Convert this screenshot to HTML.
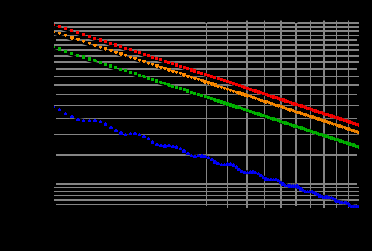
<!DOCTYPE html>
<html><head><meta charset="utf-8"><title>plot</title>
<style>html,body{margin:0;padding:0;background:#000;overflow:hidden;font-family:"Liberation Sans",sans-serif;}svg{display:block}</style>
</head><body>
<svg width="372" height="251" viewBox="0 0 372 251">
<rect width="372" height="251" fill="#000"/>
<defs><clipPath id="c"><rect x="54" y="20" width="305" height="188"/></clipPath></defs>
<g fill="#848484" shape-rendering="crispEdges">
<rect x="54" y="22" width="305" height="2"/>
<rect x="54" y="26" width="305" height="2"/>
<rect x="54" y="30" width="305" height="2"/>
<rect x="54" y="35" width="305" height="1"/>
<rect x="56" y="39" width="301" height="2"/>
<rect x="54" y="44" width="305" height="2"/>
<rect x="54" y="49" width="305" height="2"/>
<rect x="54" y="55" width="305" height="2"/>
<rect x="54" y="61" width="305" height="2"/>
<rect x="56" y="68" width="301" height="2"/>
<rect x="54" y="76" width="305" height="1"/>
<rect x="54" y="84" width="305" height="2"/>
<rect x="56" y="94" width="301" height="1"/>
<rect x="54" y="105" width="305" height="1"/>
<rect x="56" y="118" width="301" height="1"/>
<rect x="54" y="134" width="305" height="1"/>
<rect x="56" y="154" width="301" height="2"/>
<rect x="56" y="183" width="301" height="2"/>
<rect x="54" y="187" width="305" height="1"/>
<rect x="54" y="191" width="305" height="1"/>
<rect x="54" y="195" width="305" height="1"/>
<rect x="54" y="199" width="305" height="2"/>
<rect x="56" y="204" width="301" height="1"/>
<rect x="206" y="24" width="1" height="182"/>
<rect x="227" y="21" width="1" height="187"/>
<rect x="227" y="20" width="1" height="1" opacity="0.45"/>
<rect x="246" y="21" width="2" height="187"/>
<rect x="246" y="20" width="2" height="1" opacity="0.45"/>
<rect x="264" y="21" width="1" height="187"/>
<rect x="264" y="20" width="1" height="1" opacity="0.45"/>
<rect x="280" y="21" width="2" height="187"/>
<rect x="280" y="20" width="2" height="1" opacity="0.45"/>
<rect x="295" y="24" width="2" height="182"/>
<rect x="310" y="21" width="1" height="187"/>
<rect x="310" y="20" width="1" height="1" opacity="0.45"/>
<rect x="323" y="21" width="2" height="187"/>
<rect x="323" y="20" width="2" height="1" opacity="0.45"/>
<rect x="336" y="21" width="1" height="187"/>
<rect x="336" y="20" width="1" height="1" opacity="0.45"/>
<rect x="348" y="21" width="1" height="187"/>
<rect x="348" y="20" width="1" height="1" opacity="0.45"/>
</g>
<rect x="205.5" y="20" width="1.6" height="3" fill="#000"/>
<rect x="295" y="20" width="2.5" height="3" fill="#000"/>
<g clip-path="url(#c)">
<line x1="50" y1="25.33" x2="362" y2="126.23" stroke="#000" stroke-width="2.0"/>
<g fill="#ff0000" shape-rendering="crispEdges">
<rect x="54" y="24" width="1" height="2"/>
<rect x="57" y="24" width="5" height="5" fill="#000" opacity="0.12"/>
<rect x="58" y="25" width="3" height="3"/>
<rect x="63" y="26" width="5" height="5" fill="#000" opacity="0.12"/>
<rect x="64" y="27" width="3" height="3"/>
<rect x="69" y="28" width="5" height="5" fill="#000" opacity="0.12"/>
<rect x="70" y="29" width="3" height="3"/>
<rect x="75" y="30" width="5" height="5" fill="#000" opacity="0.12"/>
<rect x="76" y="31" width="3" height="3"/>
<rect x="81" y="32" width="5" height="5" fill="#000" opacity="0.12"/>
<rect x="82" y="33" width="3" height="3"/>
<rect x="87" y="34" width="5" height="5" fill="#000" opacity="0.12"/>
<rect x="88" y="35" width="3" height="3"/>
<rect x="92" y="36" width="5" height="5" fill="#000" opacity="0.12"/>
<rect x="93" y="37" width="3" height="3"/>
<rect x="98" y="37" width="5" height="6" fill="#000" opacity="0.12"/>
<rect x="99" y="38" width="3" height="4"/>
<rect x="103" y="39" width="5" height="5" fill="#000" opacity="0.12"/>
<rect x="104" y="40" width="3" height="3"/>
<rect x="108" y="41" width="5" height="5" fill="#000" opacity="0.12"/>
<rect x="109" y="42" width="3" height="3"/>
<rect x="113" y="42" width="5" height="6" fill="#000" opacity="0.12"/>
<rect x="114" y="43" width="3" height="4"/>
<rect x="118" y="44" width="5" height="5" fill="#000" opacity="0.12"/>
<rect x="119" y="45" width="3" height="3"/>
<rect x="123" y="46" width="5" height="5" fill="#000" opacity="0.12"/>
<rect x="124" y="47" width="3" height="3"/>
<rect x="128" y="47" width="5" height="5" fill="#000" opacity="0.12"/>
<rect x="129" y="48" width="3" height="3"/>
<rect x="133" y="49" width="5" height="5" fill="#000" opacity="0.12"/>
<rect x="134" y="50" width="3" height="3"/>
<rect x="137" y="50" width="5" height="5" fill="#000" opacity="0.12"/>
<rect x="138" y="51" width="3" height="3"/>
<rect x="142" y="52" width="5" height="5" fill="#000" opacity="0.12"/>
<rect x="143" y="53" width="3" height="3"/>
<rect x="146" y="53" width="5" height="5" fill="#000" opacity="0.12"/>
<rect x="147" y="54" width="3" height="3"/>
<rect x="150" y="55" width="5" height="5" fill="#000" opacity="0.12"/>
<rect x="151" y="56" width="3" height="3"/>
<rect x="154" y="56" width="5" height="5" fill="#000" opacity="0.12"/>
<rect x="155" y="57" width="3" height="3"/>
<rect x="158" y="57" width="5" height="5" fill="#000" opacity="0.12"/>
<rect x="159" y="58" width="3" height="3"/>
<rect x="163" y="59" width="5" height="5" fill="#000" opacity="0.12"/>
<rect x="164" y="60" width="3" height="3"/>
<rect x="166" y="60" width="5" height="5" fill="#000" opacity="0.12"/>
<rect x="167" y="61" width="3" height="3"/>
<rect x="170" y="61" width="5" height="5" fill="#000" opacity="0.12"/>
<rect x="171" y="62" width="3" height="3"/>
<rect x="174" y="62" width="5" height="6" fill="#000" opacity="0.12"/>
<rect x="175" y="63" width="3" height="4"/>
<rect x="178" y="64" width="5" height="5" fill="#000" opacity="0.12"/>
<rect x="179" y="65" width="3" height="3"/>
<rect x="182" y="65" width="5" height="5" fill="#000" opacity="0.12"/>
<rect x="183" y="66" width="3" height="3"/>
<rect x="185" y="66" width="5" height="5" fill="#000" opacity="0.12"/>
<rect x="186" y="67" width="3" height="3"/>
<rect x="189" y="67" width="5" height="6" fill="#000" opacity="0.12"/>
<rect x="190" y="68" width="3" height="4"/>
<rect x="192" y="68" width="5" height="6" fill="#000" opacity="0.12"/>
<rect x="193" y="69" width="3" height="4"/>
<rect x="196" y="70" width="5" height="5" fill="#000" opacity="0.12"/>
<rect x="197" y="71" width="3" height="3"/>
<rect x="199" y="71" width="5" height="5" fill="#000" opacity="0.12"/>
<rect x="200" y="72" width="3" height="3"/>
<rect x="203" y="72" width="5" height="5" fill="#000" opacity="0.12"/>
<rect x="204" y="73" width="3" height="3"/>
<rect x="206" y="73" width="5" height="5" fill="#000" opacity="0.12"/>
<rect x="207" y="74" width="3" height="3"/>
<rect x="209" y="74" width="5" height="5" fill="#000" opacity="0.12"/>
<rect x="210" y="75" width="3" height="3"/>
<rect x="212" y="75" width="5" height="5" fill="#000" opacity="0.12"/>
<rect x="213" y="76" width="3" height="3"/>
<rect x="216" y="76" width="5" height="5" fill="#000" opacity="0.12"/>
<rect x="217" y="77" width="3" height="3"/>
<rect x="219" y="77" width="5" height="5" fill="#000" opacity="0.12"/>
<rect x="220" y="78" width="3" height="3"/>
<rect x="222" y="78" width="5" height="5" fill="#000" opacity="0.12"/>
<rect x="223" y="79" width="3" height="3"/>
<rect x="225" y="79" width="5" height="5" fill="#000" opacity="0.12"/>
<rect x="226" y="80" width="3" height="3"/>
<rect x="228" y="80" width="5" height="5" fill="#000" opacity="0.12"/>
<rect x="229" y="81" width="3" height="3"/>
<rect x="231" y="81" width="5" height="5" fill="#000" opacity="0.12"/>
<rect x="232" y="82" width="3" height="3"/>
<rect x="234" y="82" width="5" height="5" fill="#000" opacity="0.12"/>
<rect x="235" y="83" width="3" height="3"/>
<rect x="237" y="83" width="5" height="5" fill="#000" opacity="0.12"/>
<rect x="238" y="84" width="3" height="3"/>
<rect x="240" y="84" width="5" height="5" fill="#000" opacity="0.12"/>
<rect x="241" y="85" width="3" height="3"/>
<rect x="242" y="85" width="5" height="5" fill="#000" opacity="0.12"/>
<rect x="243" y="86" width="3" height="3"/>
<rect x="245" y="86" width="5" height="5" fill="#000" opacity="0.12"/>
<rect x="246" y="87" width="3" height="3"/>
<rect x="248" y="87" width="5" height="5" fill="#000" opacity="0.12"/>
<rect x="249" y="88" width="3" height="3"/>
<rect x="251" y="88" width="5" height="5" fill="#000" opacity="0.12"/>
<rect x="252" y="89" width="3" height="3"/>
<rect x="253" y="88" width="5" height="6" fill="#000" opacity="0.12"/>
<rect x="254" y="89" width="3" height="4"/>
<rect x="256" y="89" width="5" height="6" fill="#000" opacity="0.12"/>
<rect x="257" y="90" width="3" height="4"/>
<rect x="258" y="90" width="5" height="5" fill="#000" opacity="0.12"/>
<rect x="259" y="91" width="3" height="3"/>
<rect x="261" y="91" width="5" height="5" fill="#000" opacity="0.12"/>
<rect x="262" y="92" width="3" height="3"/>
<rect x="264" y="92" width="5" height="5" fill="#000" opacity="0.12"/>
<rect x="265" y="93" width="3" height="3"/>
<rect x="266" y="93" width="5" height="5" fill="#000" opacity="0.12"/>
<rect x="267" y="94" width="3" height="3"/>
<rect x="269" y="94" width="5" height="5" fill="#000" opacity="0.12"/>
<rect x="270" y="95" width="3" height="3"/>
<rect x="271" y="94" width="5" height="6" fill="#000" opacity="0.12"/>
<rect x="272" y="95" width="3" height="4"/>
<rect x="274" y="95" width="5" height="5" fill="#000" opacity="0.12"/>
<rect x="275" y="96" width="3" height="3"/>
<rect x="276" y="96" width="5" height="5" fill="#000" opacity="0.12"/>
<rect x="277" y="97" width="3" height="3"/>
<rect x="278" y="97" width="5" height="5" fill="#000" opacity="0.12"/>
<rect x="279" y="98" width="3" height="3"/>
<rect x="281" y="97" width="5" height="6" fill="#000" opacity="0.12"/>
<rect x="282" y="98" width="3" height="4"/>
<rect x="283" y="98" width="5" height="6" fill="#000" opacity="0.12"/>
<rect x="284" y="99" width="3" height="4"/>
<rect x="285" y="99" width="5" height="5" fill="#000" opacity="0.12"/>
<rect x="286" y="100" width="3" height="3"/>
<rect x="288" y="100" width="5" height="5" fill="#000" opacity="0.12"/>
<rect x="289" y="101" width="3" height="3"/>
<rect x="290" y="101" width="5" height="5" fill="#000" opacity="0.12"/>
<rect x="291" y="102" width="3" height="3"/>
<rect x="292" y="101" width="5" height="6" fill="#000" opacity="0.12"/>
<rect x="293" y="102" width="3" height="4"/>
<rect x="294" y="102" width="5" height="5" fill="#000" opacity="0.12"/>
<rect x="295" y="103" width="3" height="3"/>
<rect x="297" y="103" width="5" height="5" fill="#000" opacity="0.12"/>
<rect x="298" y="104" width="3" height="3"/>
<rect x="299" y="103" width="5" height="6" fill="#000" opacity="0.12"/>
<rect x="300" y="104" width="3" height="4"/>
<rect x="301" y="104" width="5" height="5" fill="#000" opacity="0.12"/>
<rect x="302" y="105" width="3" height="3"/>
<rect x="303" y="105" width="5" height="5" fill="#000" opacity="0.12"/>
<rect x="304" y="106" width="3" height="3"/>
<rect x="305" y="106" width="5" height="5" fill="#000" opacity="0.12"/>
<rect x="306" y="107" width="3" height="3"/>
<rect x="307" y="106" width="5" height="5" fill="#000" opacity="0.12"/>
<rect x="308" y="107" width="3" height="3"/>
<rect x="309" y="107" width="5" height="5" fill="#000" opacity="0.12"/>
<rect x="310" y="108" width="3" height="3"/>
<rect x="311" y="108" width="5" height="5" fill="#000" opacity="0.12"/>
<rect x="312" y="109" width="3" height="3"/>
<rect x="313" y="108" width="5" height="6" fill="#000" opacity="0.12"/>
<rect x="314" y="109" width="3" height="4"/>
<rect x="315" y="109" width="5" height="5" fill="#000" opacity="0.12"/>
<rect x="316" y="110" width="3" height="3"/>
<rect x="317" y="110" width="5" height="5" fill="#000" opacity="0.12"/>
<rect x="318" y="111" width="3" height="3"/>
<rect x="319" y="110" width="5" height="5" fill="#000" opacity="0.12"/>
<rect x="320" y="111" width="3" height="3"/>
<rect x="321" y="111" width="5" height="5" fill="#000" opacity="0.12"/>
<rect x="322" y="112" width="3" height="3"/>
<rect x="323" y="112" width="5" height="5" fill="#000" opacity="0.12"/>
<rect x="324" y="113" width="3" height="3"/>
<rect x="325" y="112" width="5" height="5" fill="#000" opacity="0.12"/>
<rect x="326" y="113" width="3" height="3"/>
<rect x="327" y="113" width="5" height="5" fill="#000" opacity="0.12"/>
<rect x="328" y="114" width="3" height="3"/>
<rect x="329" y="113" width="5" height="6" fill="#000" opacity="0.12"/>
<rect x="330" y="114" width="3" height="4"/>
<rect x="331" y="114" width="5" height="5" fill="#000" opacity="0.12"/>
<rect x="332" y="115" width="3" height="3"/>
<rect x="333" y="115" width="5" height="5" fill="#000" opacity="0.12"/>
<rect x="334" y="116" width="3" height="3"/>
<rect x="335" y="115" width="5" height="5" fill="#000" opacity="0.12"/>
<rect x="336" y="116" width="3" height="3"/>
<rect x="336" y="116" width="5" height="5" fill="#000" opacity="0.12"/>
<rect x="337" y="117" width="3" height="3"/>
<rect x="338" y="116" width="5" height="6" fill="#000" opacity="0.12"/>
<rect x="339" y="117" width="3" height="4"/>
<rect x="340" y="117" width="5" height="5" fill="#000" opacity="0.12"/>
<rect x="341" y="118" width="3" height="3"/>
<rect x="342" y="118" width="5" height="5" fill="#000" opacity="0.12"/>
<rect x="343" y="119" width="3" height="3"/>
<rect x="344" y="118" width="5" height="5" fill="#000" opacity="0.12"/>
<rect x="345" y="119" width="3" height="3"/>
<rect x="345" y="119" width="5" height="5" fill="#000" opacity="0.12"/>
<rect x="346" y="120" width="3" height="3"/>
<rect x="347" y="119" width="5" height="6" fill="#000" opacity="0.12"/>
<rect x="348" y="120" width="3" height="4"/>
<rect x="349" y="120" width="5" height="5" fill="#000" opacity="0.12"/>
<rect x="350" y="121" width="3" height="3"/>
<rect x="351" y="121" width="5" height="5" fill="#000" opacity="0.12"/>
<rect x="352" y="122" width="3" height="3"/>
<rect x="352" y="121" width="5" height="5" fill="#000" opacity="0.12"/>
<rect x="353" y="122" width="3" height="3"/>
<rect x="354" y="122" width="5" height="5" fill="#000" opacity="0.12"/>
<rect x="355" y="123" width="3" height="3"/>
<rect x="356" y="122" width="5" height="5" fill="#000" opacity="0.12"/>
<rect x="357" y="123" width="3" height="3"/>
<rect x="357" y="123" width="5" height="5" fill="#000" opacity="0.12"/>
<rect x="358" y="124" width="3" height="3"/>
</g>
<line x1="50" y1="32.58" x2="362" y2="133.23" stroke="#000" stroke-width="2.0"/>
<g fill="#ff8c00" shape-rendering="crispEdges">
<rect x="54" y="31" width="1" height="2"/>
<rect x="57" y="31" width="5" height="5" fill="#000" opacity="0.12"/>
<path d="M58,32h3v2h-1v1h-1v-1h-1z"/>
<rect x="63" y="33" width="5" height="5" fill="#000" opacity="0.12"/>
<path d="M64,34h3v2h-1v1h-1v-1h-1z"/>
<rect x="69" y="35" width="6" height="6" fill="#000" opacity="0.12"/>
<path d="M70,36h4v3h-1v1h-2v-1h-1z"/>
<rect x="75" y="37" width="6" height="5" fill="#000" opacity="0.12"/>
<path d="M76,38h4v2h-1v1h-2v-1h-1z"/>
<rect x="81" y="39" width="5" height="5" fill="#000" opacity="0.12"/>
<path d="M82,40h3v2h-1v1h-1v-1h-1z"/>
<rect x="87" y="41" width="5" height="5" fill="#000" opacity="0.12"/>
<path d="M88,42h3v2h-1v1h-1v-1h-1z"/>
<rect x="92" y="43" width="6" height="5" fill="#000" opacity="0.12"/>
<path d="M93,44h4v2h-1v1h-2v-1h-1z"/>
<rect x="98" y="45" width="5" height="5" fill="#000" opacity="0.12"/>
<path d="M99,46h3v2h-1v1h-1v-1h-1z"/>
<rect x="103" y="46" width="5" height="6" fill="#000" opacity="0.12"/>
<path d="M104,47h3v3h-1v1h-1v-1h-1z"/>
<rect x="108" y="48" width="6" height="5" fill="#000" opacity="0.12"/>
<path d="M109,49h4v2h-1v1h-2v-1h-1z"/>
<rect x="113" y="50" width="6" height="5" fill="#000" opacity="0.12"/>
<path d="M114,51h4v2h-1v1h-2v-1h-1z"/>
<rect x="118" y="51" width="6" height="6" fill="#000" opacity="0.12"/>
<path d="M119,52h4v3h-1v1h-2v-1h-1z"/>
<rect x="123" y="53" width="5" height="5" fill="#000" opacity="0.12"/>
<path d="M124,54h3v2h-1v1h-1v-1h-1z"/>
<rect x="128" y="55" width="5" height="5" fill="#000" opacity="0.12"/>
<path d="M129,56h3v2h-1v1h-1v-1h-1z"/>
<rect x="132" y="56" width="6" height="5" fill="#000" opacity="0.12"/>
<path d="M133,57h4v2h-1v1h-2v-1h-1z"/>
<rect x="137" y="58" width="5" height="5" fill="#000" opacity="0.12"/>
<path d="M138,59h3v2h-1v1h-1v-1h-1z"/>
<rect x="141" y="59" width="6" height="5" fill="#000" opacity="0.12"/>
<path d="M142,60h4v2h-1v1h-2v-1h-1z"/>
<rect x="146" y="61" width="5" height="5" fill="#000" opacity="0.12"/>
<path d="M147,62h3v2h-1v1h-1v-1h-1z"/>
<rect x="150" y="62" width="5" height="5" fill="#000" opacity="0.12"/>
<path d="M151,63h3v2h-1v1h-1v-1h-1z"/>
<rect x="154" y="63" width="6" height="6" fill="#000" opacity="0.12"/>
<path d="M155,64h4v3h-1v1h-2v-1h-1z"/>
<rect x="158" y="65" width="6" height="5" fill="#000" opacity="0.12"/>
<path d="M159,66h4v2h-1v1h-2v-1h-1z"/>
<rect x="162" y="66" width="6" height="5" fill="#000" opacity="0.12"/>
<path d="M163,67h4v2h-1v1h-2v-1h-1z"/>
<rect x="166" y="67" width="6" height="6" fill="#000" opacity="0.12"/>
<path d="M167,68h4v3h-1v1h-2v-1h-1z"/>
<rect x="170" y="69" width="6" height="5" fill="#000" opacity="0.12"/>
<path d="M171,70h4v2h-1v1h-2v-1h-1z"/>
<rect x="174" y="70" width="5" height="5" fill="#000" opacity="0.12"/>
<path d="M175,71h3v2h-1v1h-1v-1h-1z"/>
<rect x="178" y="71" width="5" height="5" fill="#000" opacity="0.12"/>
<path d="M179,72h3v2h-1v1h-1v-1h-1z"/>
<rect x="181" y="72" width="6" height="6" fill="#000" opacity="0.12"/>
<path d="M182,73h4v3h-1v1h-2v-1h-1z"/>
<rect x="185" y="74" width="6" height="5" fill="#000" opacity="0.12"/>
<path d="M186,75h4v2h-1v1h-2v-1h-1z"/>
<rect x="189" y="75" width="5" height="5" fill="#000" opacity="0.12"/>
<path d="M190,76h3v2h-1v1h-1v-1h-1z"/>
<rect x="192" y="76" width="6" height="5" fill="#000" opacity="0.12"/>
<path d="M193,77h4v2h-1v1h-2v-1h-1z"/>
<rect x="196" y="77" width="5" height="5" fill="#000" opacity="0.12"/>
<path d="M197,78h3v2h-1v1h-1v-1h-1z"/>
<rect x="199" y="78" width="6" height="5" fill="#000" opacity="0.12"/>
<path d="M200,79h4v2h-1v1h-2v-1h-1z"/>
<rect x="202" y="79" width="6" height="6" fill="#000" opacity="0.12"/>
<path d="M203,80h4v3h-1v1h-2v-1h-1z"/>
<rect x="206" y="80" width="5" height="6" fill="#000" opacity="0.12"/>
<path d="M207,81h3v3h-1v1h-1v-1h-1z"/>
<rect x="209" y="81" width="6" height="6" fill="#000" opacity="0.12"/>
<path d="M210,82h4v3h-1v1h-2v-1h-1z"/>
<rect x="212" y="82" width="6" height="6" fill="#000" opacity="0.12"/>
<path d="M213,83h4v3h-1v1h-2v-1h-1z"/>
<rect x="215" y="84" width="6" height="5" fill="#000" opacity="0.12"/>
<path d="M216,85h4v2h-1v1h-2v-1h-1z"/>
<rect x="219" y="85" width="5" height="5" fill="#000" opacity="0.12"/>
<path d="M220,86h3v2h-1v1h-1v-1h-1z"/>
<rect x="222" y="86" width="5" height="5" fill="#000" opacity="0.12"/>
<path d="M223,87h3v2h-1v1h-1v-1h-1z"/>
<rect x="225" y="87" width="5" height="5" fill="#000" opacity="0.12"/>
<path d="M226,88h3v2h-1v1h-1v-1h-1z"/>
<rect x="228" y="88" width="5" height="5" fill="#000" opacity="0.12"/>
<path d="M229,89h3v2h-1v1h-1v-1h-1z"/>
<rect x="231" y="89" width="5" height="5" fill="#000" opacity="0.12"/>
<path d="M232,90h3v2h-1v1h-1v-1h-1z"/>
<rect x="234" y="90" width="5" height="5" fill="#000" opacity="0.12"/>
<path d="M235,91h3v2h-1v1h-1v-1h-1z"/>
<rect x="236" y="90" width="6" height="6" fill="#000" opacity="0.12"/>
<path d="M237,91h4v3h-1v1h-2v-1h-1z"/>
<rect x="239" y="91" width="6" height="6" fill="#000" opacity="0.12"/>
<path d="M240,92h4v3h-1v1h-2v-1h-1z"/>
<rect x="242" y="92" width="6" height="6" fill="#000" opacity="0.12"/>
<path d="M243,93h4v3h-1v1h-2v-1h-1z"/>
<rect x="245" y="93" width="5" height="6" fill="#000" opacity="0.12"/>
<path d="M246,94h3v3h-1v1h-1v-1h-1z"/>
<rect x="248" y="94" width="5" height="5" fill="#000" opacity="0.12"/>
<path d="M249,95h3v2h-1v1h-1v-1h-1z"/>
<rect x="250" y="95" width="6" height="5" fill="#000" opacity="0.12"/>
<path d="M251,96h4v2h-1v1h-2v-1h-1z"/>
<rect x="253" y="96" width="5" height="5" fill="#000" opacity="0.12"/>
<path d="M254,97h3v2h-1v1h-1v-1h-1z"/>
<rect x="256" y="97" width="5" height="5" fill="#000" opacity="0.12"/>
<path d="M257,98h3v2h-1v1h-1v-1h-1z"/>
<rect x="258" y="98" width="6" height="5" fill="#000" opacity="0.12"/>
<path d="M259,99h4v2h-1v1h-2v-1h-1z"/>
<rect x="261" y="99" width="5" height="5" fill="#000" opacity="0.12"/>
<path d="M262,100h3v2h-1v1h-1v-1h-1z"/>
<rect x="263" y="99" width="6" height="6" fill="#000" opacity="0.12"/>
<path d="M264,100h4v3h-1v1h-2v-1h-1z"/>
<rect x="266" y="100" width="5" height="5" fill="#000" opacity="0.12"/>
<path d="M267,101h3v2h-1v1h-1v-1h-1z"/>
<rect x="268" y="101" width="6" height="5" fill="#000" opacity="0.12"/>
<path d="M269,102h4v2h-1v1h-2v-1h-1z"/>
<rect x="271" y="102" width="5" height="5" fill="#000" opacity="0.12"/>
<path d="M272,103h3v2h-1v1h-1v-1h-1z"/>
<rect x="273" y="103" width="6" height="5" fill="#000" opacity="0.12"/>
<path d="M274,104h4v2h-1v1h-2v-1h-1z"/>
<rect x="276" y="103" width="5" height="6" fill="#000" opacity="0.12"/>
<path d="M277,104h3v3h-1v1h-1v-1h-1z"/>
<rect x="278" y="104" width="6" height="5" fill="#000" opacity="0.12"/>
<path d="M279,105h4v2h-1v1h-2v-1h-1z"/>
<rect x="280" y="105" width="6" height="5" fill="#000" opacity="0.12"/>
<path d="M281,106h4v2h-1v1h-2v-1h-1z"/>
<rect x="283" y="106" width="5" height="5" fill="#000" opacity="0.12"/>
<path d="M284,107h3v2h-1v1h-1v-1h-1z"/>
<rect x="285" y="107" width="6" height="5" fill="#000" opacity="0.12"/>
<path d="M286,108h4v2h-1v1h-2v-1h-1z"/>
<rect x="287" y="107" width="6" height="6" fill="#000" opacity="0.12"/>
<path d="M288,108h4v3h-1v1h-2v-1h-1z"/>
<rect x="290" y="108" width="5" height="5" fill="#000" opacity="0.12"/>
<path d="M291,109h3v2h-1v1h-1v-1h-1z"/>
<rect x="292" y="109" width="5" height="5" fill="#000" opacity="0.12"/>
<path d="M293,110h3v2h-1v1h-1v-1h-1z"/>
<rect x="294" y="110" width="6" height="5" fill="#000" opacity="0.12"/>
<path d="M295,111h4v2h-1v1h-2v-1h-1z"/>
<rect x="296" y="110" width="6" height="5" fill="#000" opacity="0.12"/>
<path d="M297,111h4v2h-1v1h-2v-1h-1z"/>
<rect x="298" y="111" width="6" height="5" fill="#000" opacity="0.12"/>
<path d="M299,112h4v2h-1v1h-2v-1h-1z"/>
<rect x="301" y="112" width="5" height="5" fill="#000" opacity="0.12"/>
<path d="M302,113h3v2h-1v1h-1v-1h-1z"/>
<rect x="303" y="112" width="5" height="6" fill="#000" opacity="0.12"/>
<path d="M304,113h3v3h-1v1h-1v-1h-1z"/>
<rect x="305" y="113" width="5" height="5" fill="#000" opacity="0.12"/>
<path d="M306,114h3v2h-1v1h-1v-1h-1z"/>
<rect x="307" y="114" width="5" height="5" fill="#000" opacity="0.12"/>
<path d="M308,115h3v2h-1v1h-1v-1h-1z"/>
<rect x="309" y="114" width="6" height="6" fill="#000" opacity="0.12"/>
<path d="M310,115h4v3h-1v1h-2v-1h-1z"/>
<rect x="311" y="115" width="6" height="5" fill="#000" opacity="0.12"/>
<path d="M312,116h4v2h-1v1h-2v-1h-1z"/>
<rect x="313" y="116" width="6" height="5" fill="#000" opacity="0.12"/>
<path d="M314,117h4v2h-1v1h-2v-1h-1z"/>
<rect x="315" y="116" width="6" height="6" fill="#000" opacity="0.12"/>
<path d="M316,117h4v3h-1v1h-2v-1h-1z"/>
<rect x="317" y="117" width="6" height="5" fill="#000" opacity="0.12"/>
<path d="M318,118h4v2h-1v1h-2v-1h-1z"/>
<rect x="319" y="118" width="6" height="5" fill="#000" opacity="0.12"/>
<path d="M320,119h4v2h-1v1h-2v-1h-1z"/>
<rect x="321" y="118" width="6" height="6" fill="#000" opacity="0.12"/>
<path d="M322,119h4v3h-1v1h-2v-1h-1z"/>
<rect x="323" y="119" width="6" height="5" fill="#000" opacity="0.12"/>
<path d="M324,120h4v2h-1v1h-2v-1h-1z"/>
<rect x="325" y="120" width="5" height="5" fill="#000" opacity="0.12"/>
<path d="M326,121h3v2h-1v1h-1v-1h-1z"/>
<rect x="327" y="120" width="5" height="6" fill="#000" opacity="0.12"/>
<path d="M328,121h3v3h-1v1h-1v-1h-1z"/>
<rect x="329" y="121" width="5" height="5" fill="#000" opacity="0.12"/>
<path d="M330,122h3v2h-1v1h-1v-1h-1z"/>
<rect x="331" y="122" width="5" height="5" fill="#000" opacity="0.12"/>
<path d="M332,123h3v2h-1v1h-1v-1h-1z"/>
<rect x="333" y="122" width="5" height="5" fill="#000" opacity="0.12"/>
<path d="M334,123h3v2h-1v1h-1v-1h-1z"/>
<rect x="334" y="123" width="6" height="5" fill="#000" opacity="0.12"/>
<path d="M335,124h4v2h-1v1h-2v-1h-1z"/>
<rect x="336" y="123" width="6" height="6" fill="#000" opacity="0.12"/>
<path d="M337,124h4v3h-1v1h-2v-1h-1z"/>
<rect x="338" y="124" width="6" height="5" fill="#000" opacity="0.12"/>
<path d="M339,125h4v2h-1v1h-2v-1h-1z"/>
<rect x="340" y="125" width="5" height="5" fill="#000" opacity="0.12"/>
<path d="M341,126h3v2h-1v1h-1v-1h-1z"/>
<rect x="342" y="125" width="5" height="5" fill="#000" opacity="0.12"/>
<path d="M343,126h3v2h-1v1h-1v-1h-1z"/>
<rect x="343" y="126" width="6" height="5" fill="#000" opacity="0.12"/>
<path d="M344,127h4v2h-1v1h-2v-1h-1z"/>
<rect x="345" y="126" width="6" height="6" fill="#000" opacity="0.12"/>
<path d="M346,127h4v3h-1v1h-2v-1h-1z"/>
<rect x="347" y="127" width="5" height="5" fill="#000" opacity="0.12"/>
<path d="M348,128h3v2h-1v1h-1v-1h-1z"/>
<rect x="349" y="128" width="5" height="5" fill="#000" opacity="0.12"/>
<path d="M350,129h3v2h-1v1h-1v-1h-1z"/>
<rect x="350" y="128" width="6" height="5" fill="#000" opacity="0.12"/>
<path d="M351,129h4v2h-1v1h-2v-1h-1z"/>
<rect x="352" y="129" width="6" height="5" fill="#000" opacity="0.12"/>
<path d="M353,130h4v2h-1v1h-2v-1h-1z"/>
<rect x="354" y="129" width="5" height="5" fill="#000" opacity="0.12"/>
<path d="M355,130h3v2h-1v1h-1v-1h-1z"/>
<rect x="355" y="130" width="6" height="5" fill="#000" opacity="0.12"/>
<path d="M356,131h4v2h-1v1h-2v-1h-1z"/>
<rect x="357" y="130" width="6" height="6" fill="#000" opacity="0.12"/>
<path d="M358,131h4v3h-1v1h-2v-1h-1z"/>
</g>
<line x1="50" y1="48.52" x2="362" y2="148.63" stroke="#000" stroke-width="2.0"/>
<g fill="#00b800" shape-rendering="crispEdges">
<rect x="54" y="46" width="1" height="2"/>
<rect x="57" y="46" width="5" height="6" fill="#000" opacity="0.12"/>
<rect x="58" y="47" width="3" height="4"/>
<rect x="63" y="49" width="5" height="5" fill="#000" opacity="0.12"/>
<rect x="64" y="50" width="3" height="3"/>
<rect x="69" y="51" width="5" height="5" fill="#000" opacity="0.12"/>
<rect x="70" y="52" width="3" height="3"/>
<rect x="75" y="53" width="5" height="5" fill="#000" opacity="0.12"/>
<rect x="76" y="54" width="3" height="3"/>
<rect x="81" y="54" width="5" height="6" fill="#000" opacity="0.12"/>
<rect x="82" y="55" width="3" height="4"/>
<rect x="87" y="56" width="5" height="6" fill="#000" opacity="0.12"/>
<rect x="88" y="57" width="3" height="4"/>
<rect x="92" y="58" width="6" height="5" fill="#000" opacity="0.12"/>
<path d="M93,59h3v1h1v2h-3v-1h-1z"/>
<rect x="98" y="60" width="5" height="5" fill="#000" opacity="0.12"/>
<rect x="99" y="61" width="3" height="3"/>
<rect x="103" y="62" width="5" height="5" fill="#000" opacity="0.12"/>
<rect x="104" y="63" width="3" height="3"/>
<rect x="108" y="63" width="5" height="6" fill="#000" opacity="0.12"/>
<rect x="109" y="64" width="3" height="4"/>
<rect x="113" y="65" width="5" height="5" fill="#000" opacity="0.12"/>
<rect x="114" y="66" width="3" height="3"/>
<rect x="118" y="67" width="5" height="5" fill="#000" opacity="0.12"/>
<rect x="119" y="68" width="3" height="3"/>
<rect x="123" y="68" width="5" height="5" fill="#000" opacity="0.12"/>
<rect x="124" y="69" width="3" height="3"/>
<rect x="128" y="70" width="5" height="5" fill="#000" opacity="0.12"/>
<rect x="129" y="71" width="3" height="3"/>
<rect x="133" y="71" width="5" height="5" fill="#000" opacity="0.12"/>
<rect x="134" y="72" width="3" height="3"/>
<rect x="137" y="73" width="5" height="5" fill="#000" opacity="0.12"/>
<rect x="138" y="74" width="3" height="3"/>
<rect x="141" y="74" width="6" height="5" fill="#000" opacity="0.12"/>
<path d="M142,75h3v1h1v2h-3v-1h-1z"/>
<rect x="146" y="76" width="5" height="5" fill="#000" opacity="0.12"/>
<rect x="147" y="77" width="3" height="3"/>
<rect x="150" y="77" width="5" height="5" fill="#000" opacity="0.12"/>
<rect x="151" y="78" width="3" height="3"/>
<rect x="154" y="78" width="5" height="6" fill="#000" opacity="0.12"/>
<rect x="155" y="79" width="3" height="4"/>
<rect x="158" y="80" width="6" height="5" fill="#000" opacity="0.12"/>
<path d="M159,81h3v1h1v2h-3v-1h-1z"/>
<rect x="162" y="81" width="6" height="5" fill="#000" opacity="0.12"/>
<path d="M163,82h3v1h1v2h-3v-1h-1z"/>
<rect x="166" y="82" width="6" height="6" fill="#000" opacity="0.12"/>
<path d="M167,83h3v1h1v3h-3v-1h-1z"/>
<rect x="170" y="84" width="5" height="5" fill="#000" opacity="0.12"/>
<rect x="171" y="85" width="3" height="3"/>
<rect x="174" y="85" width="5" height="5" fill="#000" opacity="0.12"/>
<rect x="175" y="86" width="3" height="3"/>
<rect x="178" y="86" width="5" height="5" fill="#000" opacity="0.12"/>
<rect x="179" y="87" width="3" height="3"/>
<rect x="182" y="87" width="5" height="5" fill="#000" opacity="0.12"/>
<rect x="183" y="88" width="3" height="3"/>
<rect x="185" y="88" width="5" height="6" fill="#000" opacity="0.12"/>
<rect x="186" y="89" width="3" height="4"/>
<rect x="189" y="90" width="5" height="5" fill="#000" opacity="0.12"/>
<rect x="190" y="91" width="3" height="3"/>
<rect x="192" y="91" width="5" height="5" fill="#000" opacity="0.12"/>
<rect x="193" y="92" width="3" height="3"/>
<rect x="196" y="92" width="5" height="5" fill="#000" opacity="0.12"/>
<rect x="197" y="93" width="3" height="3"/>
<rect x="199" y="93" width="5" height="5" fill="#000" opacity="0.12"/>
<rect x="200" y="94" width="3" height="3"/>
<rect x="203" y="94" width="5" height="5" fill="#000" opacity="0.12"/>
<rect x="204" y="95" width="3" height="3"/>
<rect x="206" y="95" width="5" height="5" fill="#000" opacity="0.12"/>
<rect x="207" y="96" width="3" height="3"/>
<rect x="209" y="96" width="5" height="5" fill="#000" opacity="0.12"/>
<rect x="210" y="97" width="3" height="3"/>
<rect x="212" y="97" width="6" height="6" fill="#000" opacity="0.12"/>
<path d="M213,98h3v1h1v3h-3v-1h-1z"/>
<rect x="216" y="98" width="5" height="6" fill="#000" opacity="0.12"/>
<rect x="217" y="99" width="3" height="4"/>
<rect x="219" y="99" width="5" height="6" fill="#000" opacity="0.12"/>
<rect x="220" y="100" width="3" height="4"/>
<rect x="222" y="100" width="5" height="6" fill="#000" opacity="0.12"/>
<rect x="223" y="101" width="3" height="4"/>
<rect x="225" y="101" width="5" height="6" fill="#000" opacity="0.12"/>
<rect x="226" y="102" width="3" height="4"/>
<rect x="228" y="102" width="5" height="6" fill="#000" opacity="0.12"/>
<rect x="229" y="103" width="3" height="4"/>
<rect x="231" y="103" width="5" height="6" fill="#000" opacity="0.12"/>
<rect x="232" y="104" width="3" height="4"/>
<rect x="234" y="104" width="5" height="6" fill="#000" opacity="0.12"/>
<rect x="235" y="105" width="3" height="4"/>
<rect x="237" y="105" width="5" height="5" fill="#000" opacity="0.12"/>
<rect x="238" y="106" width="3" height="3"/>
<rect x="239" y="106" width="6" height="5" fill="#000" opacity="0.12"/>
<path d="M240,107h3v1h1v2h-3v-1h-1z"/>
<rect x="242" y="107" width="5" height="5" fill="#000" opacity="0.12"/>
<rect x="243" y="108" width="3" height="3"/>
<rect x="245" y="108" width="5" height="5" fill="#000" opacity="0.12"/>
<rect x="246" y="109" width="3" height="3"/>
<rect x="248" y="109" width="5" height="5" fill="#000" opacity="0.12"/>
<rect x="249" y="110" width="3" height="3"/>
<rect x="251" y="110" width="5" height="5" fill="#000" opacity="0.12"/>
<rect x="252" y="111" width="3" height="3"/>
<rect x="253" y="111" width="5" height="5" fill="#000" opacity="0.12"/>
<rect x="254" y="112" width="3" height="3"/>
<rect x="256" y="111" width="5" height="6" fill="#000" opacity="0.12"/>
<rect x="257" y="112" width="3" height="4"/>
<rect x="258" y="112" width="6" height="6" fill="#000" opacity="0.12"/>
<path d="M259,113h3v1h1v3h-3v-1h-1z"/>
<rect x="261" y="113" width="5" height="5" fill="#000" opacity="0.12"/>
<rect x="262" y="114" width="3" height="3"/>
<rect x="264" y="114" width="5" height="5" fill="#000" opacity="0.12"/>
<rect x="265" y="115" width="3" height="3"/>
<rect x="266" y="115" width="5" height="5" fill="#000" opacity="0.12"/>
<rect x="267" y="116" width="3" height="3"/>
<rect x="269" y="116" width="5" height="5" fill="#000" opacity="0.12"/>
<rect x="270" y="117" width="3" height="3"/>
<rect x="271" y="116" width="5" height="6" fill="#000" opacity="0.12"/>
<rect x="272" y="117" width="3" height="4"/>
<rect x="273" y="117" width="6" height="5" fill="#000" opacity="0.12"/>
<path d="M274,118h3v1h1v2h-3v-1h-1z"/>
<rect x="276" y="118" width="5" height="5" fill="#000" opacity="0.12"/>
<rect x="277" y="119" width="3" height="3"/>
<rect x="278" y="119" width="5" height="5" fill="#000" opacity="0.12"/>
<rect x="279" y="120" width="3" height="3"/>
<rect x="281" y="120" width="5" height="5" fill="#000" opacity="0.12"/>
<rect x="282" y="121" width="3" height="3"/>
<rect x="283" y="120" width="5" height="6" fill="#000" opacity="0.12"/>
<rect x="284" y="121" width="3" height="4"/>
<rect x="285" y="121" width="5" height="5" fill="#000" opacity="0.12"/>
<rect x="286" y="122" width="3" height="3"/>
<rect x="288" y="122" width="5" height="5" fill="#000" opacity="0.12"/>
<rect x="289" y="123" width="3" height="3"/>
<rect x="290" y="123" width="5" height="5" fill="#000" opacity="0.12"/>
<rect x="291" y="124" width="3" height="3"/>
<rect x="292" y="123" width="5" height="6" fill="#000" opacity="0.12"/>
<rect x="293" y="124" width="3" height="4"/>
<rect x="294" y="124" width="5" height="5" fill="#000" opacity="0.12"/>
<rect x="295" y="125" width="3" height="3"/>
<rect x="297" y="125" width="5" height="5" fill="#000" opacity="0.12"/>
<rect x="298" y="126" width="3" height="3"/>
<rect x="299" y="125" width="5" height="6" fill="#000" opacity="0.12"/>
<rect x="300" y="126" width="3" height="4"/>
<rect x="301" y="126" width="5" height="5" fill="#000" opacity="0.12"/>
<rect x="302" y="127" width="3" height="3"/>
<rect x="303" y="127" width="5" height="5" fill="#000" opacity="0.12"/>
<rect x="304" y="128" width="3" height="3"/>
<rect x="305" y="128" width="5" height="5" fill="#000" opacity="0.12"/>
<rect x="306" y="129" width="3" height="3"/>
<rect x="307" y="128" width="5" height="5" fill="#000" opacity="0.12"/>
<rect x="308" y="129" width="3" height="3"/>
<rect x="309" y="129" width="5" height="5" fill="#000" opacity="0.12"/>
<rect x="310" y="130" width="3" height="3"/>
<rect x="311" y="130" width="5" height="5" fill="#000" opacity="0.12"/>
<rect x="312" y="131" width="3" height="3"/>
<rect x="313" y="130" width="5" height="5" fill="#000" opacity="0.12"/>
<rect x="314" y="131" width="3" height="3"/>
<rect x="315" y="131" width="5" height="5" fill="#000" opacity="0.12"/>
<rect x="316" y="132" width="3" height="3"/>
<rect x="317" y="132" width="5" height="5" fill="#000" opacity="0.12"/>
<rect x="318" y="133" width="3" height="3"/>
<rect x="319" y="132" width="5" height="5" fill="#000" opacity="0.12"/>
<rect x="320" y="133" width="3" height="3"/>
<rect x="321" y="133" width="5" height="5" fill="#000" opacity="0.12"/>
<rect x="322" y="134" width="3" height="3"/>
<rect x="323" y="133" width="5" height="6" fill="#000" opacity="0.12"/>
<rect x="324" y="134" width="3" height="4"/>
<rect x="325" y="134" width="5" height="5" fill="#000" opacity="0.12"/>
<rect x="326" y="135" width="3" height="3"/>
<rect x="327" y="135" width="5" height="5" fill="#000" opacity="0.12"/>
<rect x="328" y="136" width="3" height="3"/>
<rect x="329" y="135" width="5" height="6" fill="#000" opacity="0.12"/>
<rect x="330" y="136" width="3" height="4"/>
<rect x="331" y="136" width="5" height="5" fill="#000" opacity="0.12"/>
<rect x="332" y="137" width="3" height="3"/>
<rect x="333" y="137" width="5" height="5" fill="#000" opacity="0.12"/>
<rect x="334" y="138" width="3" height="3"/>
<rect x="335" y="137" width="5" height="5" fill="#000" opacity="0.12"/>
<rect x="336" y="138" width="3" height="3"/>
<rect x="336" y="138" width="6" height="5" fill="#000" opacity="0.12"/>
<path d="M337,139h3v1h1v2h-3v-1h-1z"/>
<rect x="338" y="138" width="5" height="6" fill="#000" opacity="0.12"/>
<rect x="339" y="139" width="3" height="4"/>
<rect x="340" y="139" width="5" height="5" fill="#000" opacity="0.12"/>
<rect x="341" y="140" width="3" height="3"/>
<rect x="342" y="140" width="5" height="5" fill="#000" opacity="0.12"/>
<rect x="343" y="141" width="3" height="3"/>
<rect x="344" y="140" width="5" height="5" fill="#000" opacity="0.12"/>
<rect x="345" y="141" width="3" height="3"/>
<rect x="345" y="141" width="5" height="5" fill="#000" opacity="0.12"/>
<rect x="346" y="142" width="3" height="3"/>
<rect x="347" y="141" width="5" height="6" fill="#000" opacity="0.12"/>
<rect x="348" y="142" width="3" height="4"/>
<rect x="349" y="142" width="5" height="5" fill="#000" opacity="0.12"/>
<rect x="350" y="143" width="3" height="3"/>
<rect x="351" y="142" width="5" height="6" fill="#000" opacity="0.12"/>
<rect x="352" y="143" width="3" height="4"/>
<rect x="352" y="143" width="5" height="5" fill="#000" opacity="0.12"/>
<rect x="353" y="144" width="3" height="3"/>
<rect x="354" y="144" width="5" height="5" fill="#000" opacity="0.12"/>
<rect x="355" y="145" width="3" height="3"/>
<rect x="356" y="144" width="5" height="5" fill="#000" opacity="0.12"/>
<rect x="357" y="145" width="3" height="3"/>
<rect x="357" y="145" width="5" height="5" fill="#000" opacity="0.12"/>
<rect x="358" y="146" width="3" height="3"/>
</g>
<path d="M50.0,107.01 L51.0,107.21 L52.0,107.44 L53.0,107.70 L54.0,107.99 L55.0,108.31 L56.0,108.67 L57.0,109.06 L58.0,109.47 L59.0,109.92 L60.0,110.38 L61.0,110.86 L62.0,111.36 L63.0,111.87 L64.0,112.39 L65.0,112.91 L66.0,113.43 L67.0,113.94 L68.0,114.45 L69.0,114.94 L70.0,115.42 L71.0,115.89 L72.0,116.34 L73.0,116.77 L74.0,117.17 L75.0,117.56 L76.0,117.92 L77.0,118.25 L78.0,118.56 L79.0,118.85 L80.0,119.10 L81.0,119.34 L82.0,119.55 L83.0,119.73 L84.0,119.90 L85.0,120.05 L86.0,120.19 L87.0,120.31 L88.0,120.42 L89.0,120.53 L90.0,120.64 L91.0,120.76 L92.0,120.88 L93.0,121.01 L94.0,121.15 L95.0,121.32 L96.0,121.50 L97.0,121.71 L98.0,121.95 L99.0,122.21 L100.0,122.50 L101.0,122.83 L102.0,123.18 L103.0,123.56 L104.0,123.97 L105.0,124.40 L106.0,124.86 L107.0,125.34 L108.0,125.83 L109.0,126.34 L110.0,126.86 L111.0,127.38 L112.0,127.90 L113.0,128.41 L114.0,128.92 L115.0,129.42 L116.0,129.89 L117.0,130.35 L118.0,130.78 L119.0,131.18 L120.0,131.56 L121.0,131.90 L122.0,132.21 L123.0,132.49 L124.0,132.74 L125.0,132.97 L126.0,133.16 L127.0,133.34 L128.0,133.49 L129.0,133.64 L130.0,133.77 L131.0,133.90 L132.0,134.03 L133.0,134.16 L134.0,134.31 L135.0,134.47 L136.0,134.65 L137.0,134.86 L138.0,135.09 L139.0,135.34 L140.0,135.63 L141.0,135.94 L142.0,136.29 L143.0,136.66 L144.0,137.07 L145.0,137.50 L146.0,137.95 L147.0,138.42 L148.0,138.91 L149.0,139.42 L150.0,139.92 L151.0,140.43 L152.0,140.93 L153.0,141.43 L154.0,141.90 L155.0,142.36 L156.0,142.79 L157.0,143.20 L158.0,143.57 L159.0,143.92 L160.0,144.24 L161.0,144.52 L162.0,144.78 L163.0,145.01 L164.0,145.22 L165.0,145.41 L166.0,145.59 L167.0,145.76 L168.0,145.93 L169.0,146.11 L170.0,146.29 L171.0,146.48 L172.0,146.69 L173.0,146.91 L174.0,147.17 L175.0,147.44 L176.0,147.75 L177.0,148.08 L178.0,148.44 L179.0,148.82 L180.0,149.23 L181.0,149.65 L182.0,150.09 L183.0,150.55 L184.0,151.00 L185.0,151.46 L186.0,151.92 L187.0,152.36 L188.0,152.79 L189.0,153.19 L190.0,153.58 L191.0,153.93 L192.0,154.27 L193.0,154.57 L194.0,154.85 L195.0,155.10 L196.0,155.34 L197.0,155.56 L198.0,155.77 L199.0,155.98 L200.0,156.19 L201.0,156.40 L202.0,156.62 L203.0,156.86 L204.0,157.12 L205.0,157.40 L206.0,157.71 L207.0,158.03 L208.0,158.38 L209.0,158.75 L210.0,159.13 L211.0,159.53 L212.0,159.93 L213.0,160.34 L214.0,160.74 L215.0,161.13 L216.0,161.51 L217.0,161.88 L218.0,162.22 L219.0,162.54 L220.0,162.85 L221.0,163.13 L222.0,163.39 L223.0,163.63 L224.0,163.87 L225.0,164.10 L226.0,164.33 L227.0,164.56 L228.0,164.80 L229.0,165.06 L230.0,165.34 L231.0,165.64 L232.0,165.97 L233.0,166.31 L234.0,166.68 L235.0,167.07 L236.0,167.47 L237.0,167.88 L238.0,168.30 L239.0,168.71 L240.0,169.12 L241.0,169.51 L242.0,169.89 L243.0,170.24 L244.0,170.57 L245.0,170.88 L246.0,171.16 L247.0,171.43 L248.0,171.68 L249.0,171.93 L250.0,172.17 L251.0,172.40 L252.0,172.65 L253.0,172.91 L254.0,173.18 L255.0,173.47 L256.0,173.77 L257.0,174.10 L258.0,174.45 L259.0,174.81 L260.0,175.19 L261.0,175.57 L262.0,175.96 L263.0,176.35 L264.0,176.73 L265.0,177.10 L266.0,177.46 L267.0,177.81 L268.0,178.15 L269.0,178.47 L270.0,178.78 L271.0,179.09 L272.0,179.39 L273.0,179.69 L274.0,180.00 L275.0,180.31 L276.0,180.63 L277.0,180.97 L278.0,181.31 L279.0,181.66 L280.0,182.03 L281.0,182.40 L282.0,182.77 L283.0,183.14 L284.0,183.50 L285.0,183.86 L286.0,184.21 L287.0,184.54 L288.0,184.86 L289.0,185.17 L290.0,185.47 L291.0,185.76 L292.0,186.04 L293.0,186.32 L294.0,186.61 L295.0,186.90 L296.0,187.20 L297.0,187.50 L298.0,187.82 L299.0,188.14 L300.0,188.47 L301.0,188.81 L302.0,189.15 L303.0,189.50 L304.0,189.84 L305.0,190.18 L306.0,190.52 L307.0,190.86 L308.0,191.19 L309.0,191.52 L310.0,191.84 L311.0,192.17 L312.0,192.50 L313.0,192.83 L314.0,193.16 L315.0,193.49 L316.0,193.83 L317.0,194.16 L318.0,194.49 L319.0,194.82 L320.0,195.15 L321.0,195.46 L322.0,195.78 L323.0,196.08 L324.0,196.38 L325.0,196.67 L326.0,196.96 L327.0,197.25 L328.0,197.54 L329.0,197.83 L330.0,198.13 L331.0,198.44 L332.0,198.75 L333.0,199.07 L334.0,199.40 L335.0,199.72 L336.0,200.06 L337.0,200.39 L338.0,200.72 L339.0,201.06 L340.0,201.39 L341.0,201.71 L342.0,202.04 L343.0,202.36 L344.0,202.69 L345.0,203.01 L346.0,203.32 L347.0,203.64 L348.0,203.95 L349.0,204.25 L350.0,204.54 L351.0,204.82 L352.0,205.09 L353.0,205.34 L354.0,205.58 L355.0,205.79 L356.0,205.98 L357.0,206.15 L358.0,206.31 L359.0,206.44 L360.0,206.55 L361.0,206.64" stroke="#000" stroke-width="2.0" fill="none"/>
<g fill="#0000ff" shape-rendering="crispEdges">
<rect x="54" y="106" width="1" height="2"/>
<rect x="57" y="107" width="5" height="5" fill="#000" opacity="0.12"/>
<path d="M58,111h3v-2h-1v-1h-1v1h-1z"/>
<rect x="63" y="111" width="5" height="5" fill="#000" opacity="0.12"/>
<path d="M64,115h3v-2h-1v-1h-1v1h-1z"/>
<rect x="69" y="114" width="6" height="5" fill="#000" opacity="0.12"/>
<path d="M70,118h4v-2h-1v-1h-2v1h-1z"/>
<rect x="75" y="117" width="6" height="5" fill="#000" opacity="0.12"/>
<path d="M76,121h4v-2h-1v-1h-2v1h-1z"/>
<rect x="81" y="118" width="5" height="5" fill="#000" opacity="0.12"/>
<path d="M82,122h3v-2h-1v-1h-1v1h-1z"/>
<rect x="87" y="118" width="5" height="5" fill="#000" opacity="0.12"/>
<path d="M88,122h3v-2h-1v-1h-1v1h-1z"/>
<rect x="92" y="118" width="6" height="5" fill="#000" opacity="0.12"/>
<path d="M93,122h4v-2h-1v-1h-2v1h-1z"/>
<rect x="98" y="119" width="5" height="5" fill="#000" opacity="0.12"/>
<path d="M99,123h3v-2h-1v-1h-1v1h-1z"/>
<rect x="103" y="121" width="5" height="6" fill="#000" opacity="0.12"/>
<path d="M104,126h3v-3h-1v-1h-1v1h-1z"/>
<rect x="108" y="125" width="6" height="5" fill="#000" opacity="0.12"/>
<path d="M109,129h4v-2h-1v-1h-2v1h-1z"/>
<rect x="113" y="128" width="6" height="5" fill="#000" opacity="0.12"/>
<path d="M114,132h4v-2h-1v-1h-2v1h-1z"/>
<rect x="118" y="130" width="6" height="6" fill="#000" opacity="0.12"/>
<path d="M119,135h4v-3h-1v-1h-2v1h-1z"/>
<rect x="123" y="132" width="5" height="5" fill="#000" opacity="0.12"/>
<path d="M124,136h3v-2h-1v-1h-1v1h-1z"/>
<rect x="128" y="131" width="5" height="5" fill="#000" opacity="0.12"/>
<path d="M129,135h3v-2h-1v-1h-1v1h-1z"/>
<rect x="132" y="131" width="6" height="5" fill="#000" opacity="0.12"/>
<path d="M133,135h4v-2h-1v-1h-2v1h-1z"/>
<rect x="137" y="132" width="5" height="5" fill="#000" opacity="0.12"/>
<path d="M138,136h3v-2h-1v-1h-1v1h-1z"/>
<rect x="141" y="134" width="6" height="5" fill="#000" opacity="0.12"/>
<path d="M142,138h4v-2h-1v-1h-2v1h-1z"/>
<rect x="146" y="136" width="5" height="5" fill="#000" opacity="0.12"/>
<path d="M147,140h3v-2h-1v-1h-1v1h-1z"/>
<rect x="150" y="139" width="5" height="6" fill="#000" opacity="0.12"/>
<path d="M151,144h3v-3h-1v-1h-1v1h-1z"/>
<rect x="154" y="142" width="6" height="5" fill="#000" opacity="0.12"/>
<path d="M155,146h4v-2h-1v-1h-2v1h-1z"/>
<rect x="158" y="143" width="6" height="5" fill="#000" opacity="0.12"/>
<path d="M159,147h4v-2h-1v-1h-2v1h-1z"/>
<rect x="162" y="143" width="6" height="6" fill="#000" opacity="0.12"/>
<path d="M163,148h4v-3h-1v-1h-2v1h-1z"/>
<rect x="166" y="143" width="6" height="5" fill="#000" opacity="0.12"/>
<path d="M167,147h4v-2h-1v-1h-2v1h-1z"/>
<rect x="170" y="144" width="6" height="5" fill="#000" opacity="0.12"/>
<path d="M171,148h4v-2h-1v-1h-2v1h-1z"/>
<rect x="174" y="144" width="5" height="6" fill="#000" opacity="0.12"/>
<path d="M175,149h3v-3h-1v-1h-1v1h-1z"/>
<rect x="178" y="146" width="5" height="5" fill="#000" opacity="0.12"/>
<path d="M179,150h3v-2h-1v-1h-1v1h-1z"/>
<rect x="181" y="148" width="6" height="6" fill="#000" opacity="0.12"/>
<path d="M182,153h4v-3h-1v-1h-2v1h-1z"/>
<rect x="185" y="151" width="6" height="5" fill="#000" opacity="0.12"/>
<path d="M186,155h4v-2h-1v-1h-2v1h-1z"/>
<rect x="189" y="153" width="5" height="5" fill="#000" opacity="0.12"/>
<path d="M190,157h3v-2h-1v-1h-1v1h-1z"/>
<rect x="192" y="154" width="6" height="5" fill="#000" opacity="0.12"/>
<path d="M193,158h4v-2h-1v-1h-2v1h-1z"/>
<rect x="196" y="153" width="5" height="5" fill="#000" opacity="0.12"/>
<path d="M197,157h3v-2h-1v-1h-1v1h-1z"/>
<rect x="199" y="153" width="6" height="6" fill="#000" opacity="0.12"/>
<path d="M200,158h4v-3h-1v-1h-2v1h-1z"/>
<rect x="202" y="154" width="6" height="5" fill="#000" opacity="0.12"/>
<path d="M203,158h4v-2h-1v-1h-2v1h-1z"/>
<rect x="206" y="155" width="5" height="5" fill="#000" opacity="0.12"/>
<path d="M207,159h3v-2h-1v-1h-1v1h-1z"/>
<rect x="209" y="157" width="6" height="5" fill="#000" opacity="0.12"/>
<path d="M210,161h4v-2h-1v-1h-2v1h-1z"/>
<rect x="212" y="159" width="6" height="6" fill="#000" opacity="0.12"/>
<path d="M213,164h4v-3h-1v-1h-2v1h-1z"/>
<rect x="215" y="161" width="6" height="5" fill="#000" opacity="0.12"/>
<path d="M216,165h4v-2h-1v-1h-2v1h-1z"/>
<rect x="219" y="162" width="5" height="5" fill="#000" opacity="0.12"/>
<path d="M220,166h3v-2h-1v-1h-1v1h-1z"/>
<rect x="222" y="162" width="5" height="5" fill="#000" opacity="0.12"/>
<path d="M223,166h3v-2h-1v-1h-1v1h-1z"/>
<rect x="225" y="161" width="5" height="6" fill="#000" opacity="0.12"/>
<path d="M226,166h3v-3h-1v-1h-1v1h-1z"/>
<rect x="228" y="161" width="5" height="6" fill="#000" opacity="0.12"/>
<path d="M229,166h3v-3h-1v-1h-1v1h-1z"/>
<rect x="231" y="162" width="5" height="6" fill="#000" opacity="0.12"/>
<path d="M232,167h3v-3h-1v-1h-1v1h-1z"/>
<rect x="234" y="164" width="5" height="6" fill="#000" opacity="0.12"/>
<path d="M235,169h3v-3h-1v-1h-1v1h-1z"/>
<rect x="236" y="167" width="6" height="5" fill="#000" opacity="0.12"/>
<path d="M237,171h4v-2h-1v-1h-2v1h-1z"/>
<rect x="239" y="169" width="6" height="5" fill="#000" opacity="0.12"/>
<path d="M240,173h4v-2h-1v-1h-2v1h-1z"/>
<rect x="242" y="170" width="6" height="5" fill="#000" opacity="0.12"/>
<path d="M243,174h4v-2h-1v-1h-2v1h-1z"/>
<rect x="245" y="170" width="5" height="5" fill="#000" opacity="0.12"/>
<path d="M246,174h3v-2h-1v-1h-1v1h-1z"/>
<rect x="248" y="169" width="5" height="6" fill="#000" opacity="0.12"/>
<path d="M249,174h3v-3h-1v-1h-1v1h-1z"/>
<rect x="250" y="169" width="6" height="6" fill="#000" opacity="0.12"/>
<path d="M251,174h4v-3h-1v-1h-2v1h-1z"/>
<rect x="253" y="170" width="5" height="5" fill="#000" opacity="0.12"/>
<path d="M254,174h3v-2h-1v-1h-1v1h-1z"/>
<rect x="256" y="171" width="5" height="5" fill="#000" opacity="0.12"/>
<path d="M257,175h3v-2h-1v-1h-1v1h-1z"/>
<rect x="258" y="173" width="6" height="5" fill="#000" opacity="0.12"/>
<path d="M259,177h4v-2h-1v-1h-2v1h-1z"/>
<rect x="261" y="175" width="5" height="5" fill="#000" opacity="0.12"/>
<path d="M262,179h3v-2h-1v-1h-1v1h-1z"/>
<rect x="263" y="176" width="6" height="6" fill="#000" opacity="0.12"/>
<path d="M264,181h4v-3h-1v-1h-2v1h-1z"/>
<rect x="266" y="177" width="5" height="5" fill="#000" opacity="0.12"/>
<path d="M267,181h3v-2h-1v-1h-1v1h-1z"/>
<rect x="268" y="177" width="6" height="5" fill="#000" opacity="0.12"/>
<path d="M269,181h4v-2h-1v-1h-2v1h-1z"/>
<rect x="271" y="177" width="5" height="5" fill="#000" opacity="0.12"/>
<path d="M272,181h3v-2h-1v-1h-1v1h-1z"/>
<rect x="273" y="177" width="6" height="5" fill="#000" opacity="0.12"/>
<path d="M274,181h4v-2h-1v-1h-2v1h-1z"/>
<rect x="276" y="178" width="5" height="5" fill="#000" opacity="0.12"/>
<path d="M277,182h3v-2h-1v-1h-1v1h-1z"/>
<rect x="278" y="180" width="6" height="5" fill="#000" opacity="0.12"/>
<path d="M279,184h4v-2h-1v-1h-2v1h-1z"/>
<rect x="280" y="181" width="6" height="6" fill="#000" opacity="0.12"/>
<path d="M281,186h4v-3h-1v-1h-2v1h-1z"/>
<rect x="283" y="183" width="5" height="5" fill="#000" opacity="0.12"/>
<path d="M284,187h3v-2h-1v-1h-1v1h-1z"/>
<rect x="285" y="183" width="6" height="5" fill="#000" opacity="0.12"/>
<path d="M286,187h4v-2h-1v-1h-2v1h-1z"/>
<rect x="287" y="183" width="6" height="6" fill="#000" opacity="0.12"/>
<path d="M288,188h4v-3h-1v-1h-2v1h-1z"/>
<rect x="290" y="183" width="5" height="6" fill="#000" opacity="0.12"/>
<path d="M291,188h3v-3h-1v-1h-1v1h-1z"/>
<rect x="292" y="183" width="5" height="6" fill="#000" opacity="0.12"/>
<path d="M293,188h3v-3h-1v-1h-1v1h-1z"/>
<rect x="294" y="183" width="6" height="6" fill="#000" opacity="0.12"/>
<path d="M295,188h4v-3h-1v-1h-2v1h-1z"/>
<rect x="296" y="185" width="6" height="5" fill="#000" opacity="0.12"/>
<path d="M297,189h4v-2h-1v-1h-2v1h-1z"/>
<rect x="298" y="186" width="6" height="6" fill="#000" opacity="0.12"/>
<path d="M299,191h4v-3h-1v-1h-2v1h-1z"/>
<rect x="301" y="188" width="5" height="5" fill="#000" opacity="0.12"/>
<path d="M302,192h3v-2h-1v-1h-1v1h-1z"/>
<rect x="303" y="189" width="5" height="5" fill="#000" opacity="0.12"/>
<path d="M304,193h3v-2h-1v-1h-1v1h-1z"/>
<rect x="305" y="189" width="5" height="5" fill="#000" opacity="0.12"/>
<path d="M306,193h3v-2h-1v-1h-1v1h-1z"/>
<rect x="307" y="189" width="5" height="5" fill="#000" opacity="0.12"/>
<path d="M308,193h3v-2h-1v-1h-1v1h-1z"/>
<rect x="309" y="189" width="6" height="5" fill="#000" opacity="0.12"/>
<path d="M310,193h4v-2h-1v-1h-2v1h-1z"/>
<rect x="311" y="190" width="6" height="5" fill="#000" opacity="0.12"/>
<path d="M312,194h4v-2h-1v-1h-2v1h-1z"/>
<rect x="313" y="191" width="6" height="5" fill="#000" opacity="0.12"/>
<path d="M314,195h4v-2h-1v-1h-2v1h-1z"/>
<rect x="315" y="192" width="6" height="5" fill="#000" opacity="0.12"/>
<path d="M316,196h4v-2h-1v-1h-2v1h-1z"/>
<rect x="317" y="193" width="6" height="6" fill="#000" opacity="0.12"/>
<path d="M318,198h4v-3h-1v-1h-2v1h-1z"/>
<rect x="319" y="194" width="6" height="5" fill="#000" opacity="0.12"/>
<path d="M320,198h4v-2h-1v-1h-2v1h-1z"/>
<rect x="321" y="195" width="6" height="5" fill="#000" opacity="0.12"/>
<path d="M322,199h4v-2h-1v-1h-2v1h-1z"/>
<rect x="323" y="194" width="6" height="6" fill="#000" opacity="0.12"/>
<path d="M324,199h4v-3h-1v-1h-2v1h-1z"/>
<rect x="325" y="194" width="5" height="6" fill="#000" opacity="0.12"/>
<path d="M326,199h3v-3h-1v-1h-1v1h-1z"/>
<rect x="327" y="195" width="5" height="5" fill="#000" opacity="0.12"/>
<path d="M328,199h3v-2h-1v-1h-1v1h-1z"/>
<rect x="329" y="195" width="5" height="5" fill="#000" opacity="0.12"/>
<path d="M330,199h3v-2h-1v-1h-1v1h-1z"/>
<rect x="331" y="196" width="5" height="5" fill="#000" opacity="0.12"/>
<path d="M332,200h3v-2h-1v-1h-1v1h-1z"/>
<rect x="333" y="197" width="5" height="6" fill="#000" opacity="0.12"/>
<path d="M334,202h3v-3h-1v-1h-1v1h-1z"/>
<rect x="334" y="199" width="6" height="5" fill="#000" opacity="0.12"/>
<path d="M335,203h4v-2h-1v-1h-2v1h-1z"/>
<rect x="336" y="199" width="6" height="5" fill="#000" opacity="0.12"/>
<path d="M337,203h4v-2h-1v-1h-2v1h-1z"/>
<rect x="338" y="200" width="6" height="5" fill="#000" opacity="0.12"/>
<path d="M339,204h4v-2h-1v-1h-2v1h-1z"/>
<rect x="340" y="200" width="5" height="5" fill="#000" opacity="0.12"/>
<path d="M341,204h3v-2h-1v-1h-1v1h-1z"/>
<rect x="342" y="200" width="5" height="5" fill="#000" opacity="0.12"/>
<path d="M343,204h3v-2h-1v-1h-1v1h-1z"/>
<rect x="343" y="200" width="6" height="5" fill="#000" opacity="0.12"/>
<path d="M344,204h4v-2h-1v-1h-2v1h-1z"/>
<rect x="345" y="201" width="6" height="5" fill="#000" opacity="0.12"/>
<path d="M346,205h4v-2h-1v-1h-2v1h-1z"/>
<rect x="347" y="202" width="5" height="6" fill="#000" opacity="0.12"/>
<path d="M348,207h3v-3h-1v-1h-1v1h-1z"/>
<rect x="349" y="204" width="5" height="5" fill="#000" opacity="0.12"/>
<path d="M350,208h3v-2h-1v-1h-1v1h-1z"/>
<rect x="350" y="204" width="6" height="5" fill="#000" opacity="0.12"/>
<path d="M351,208h4v-2h-1v-1h-2v1h-1z"/>
<rect x="352" y="204" width="6" height="5" fill="#000" opacity="0.12"/>
<path d="M353,208h4v-2h-1v-1h-2v1h-1z"/>
<rect x="354" y="204" width="5" height="5" fill="#000" opacity="0.12"/>
<path d="M355,208h3v-2h-1v-1h-1v1h-1z"/>
<rect x="355" y="204" width="6" height="5" fill="#000" opacity="0.12"/>
<path d="M356,208h4v-2h-1v-1h-2v1h-1z"/>
<rect x="357" y="204" width="6" height="6" fill="#000" opacity="0.12"/>
<path d="M358,209h4v-3h-1v-1h-2v1h-1z"/>
</g>
</g>
</svg>
</body></html>
